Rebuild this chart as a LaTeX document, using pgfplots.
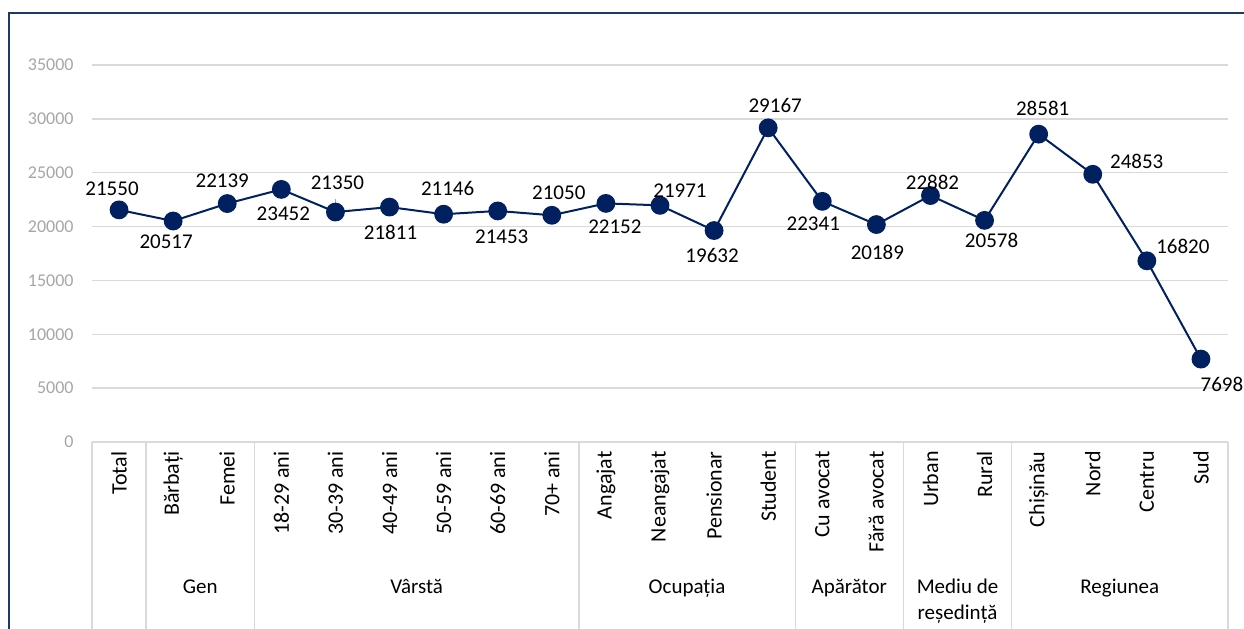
\documentclass[border=0pt]{standalone}
\usepackage{pgfplots}
\pgfplotsset{compat=1.18}
\usepackage{pgfplotstable}
\usepackage{fontspec}
\setmainfont{Carlito}
\definecolor{navy}{HTML}{002060}
\definecolor{framec}{HTML}{203864}
\definecolor{gridc}{HTML}{D9D9D9}
\definecolor{tickc}{HTML}{A6A6A6}

\pgfplotstableread{
x y dx dy lab
0 21550 -3.5 10.5 21550
1 20517 -3.5 -10.5 20517
2 22139 -2.5 11.5 22139
3 23452 1 -12 23452
4 21350 1 14.5 21350
5 21811 0.5 -12.5 21811
6 21146 2 13 21146
7 21453 2 -13 21453
8 21050 3.5 11.5 21050
9 22152 4.5 -11.5 22152
10 21971 10 7.5 21971
11 19632 -1 -12.5 19632
12 29167 3.5 11 29167
13 22341 -4.5 -11 22341
14 20189 0.5 -14 20189
15 22882 1 6.5 22882
16 20578 3.5 -10 20578
17 28581 2 13 28581
18 24853 22 6.5 24853
19 16820 18 7 16820
20 7698 10.5 -12.5 7698
}\data

\begin{document}
\begin{tikzpicture}
\useasboundingbox (-46pt,-93pt) rectangle (576pt,221pt);
\draw[framec, line width=1pt] (-41.5pt,-110pt) -- (-41.5pt,214.5pt) -- (600pt,214.5pt);
\begin{axis}[
  at={(0,0)}, anchor=south west,
  width=568pt, height=188.5pt, scale only axis,
  xmin=-0.5, xmax=20.5, ymin=0, ymax=35000,
  ytick={0,5000,...,35000},
  scaled y ticks=false,
  xtick={0,...,20},
  xticklabels={Total,Bărbați,Femei,18-29 ani,30-39 ani,40-49 ani,50-59 ani,60-69 ani,70+ ani,Angajat,Neangajat,Pensionar,Student,Cu avocat,Fără avocat,Urban,Rural,Chișinău,Nord,Centru,Sud},
  axis line style={draw=none},
  tick style={draw=none},
  ymajorgrids,
  grid style={gridc, line width=0.7pt},
  clip=false,
  /pgf/number format/assume math mode=true,
  /pgf/number format/1000 sep={},
  yticklabel={\pgfmathprintnumber[fixed, precision=0, 1000 sep={}]{\tick}},
  yticklabel style={font=\fontsize{9}{10}\selectfont, text=tickc, anchor=east, inner sep=0pt, xshift=-9pt},
  xticklabel style={font=\fontsize{11}{12}\selectfont, yshift=-4.5pt, rotate=90, anchor=east, inner sep=0pt},
]
\pgfplotsinvokeforeach{-0.5,0.5,2.5,8.5,12.5,14.5,16.5,20.5}{
  \draw[gridc, line width=0.7pt] (axis cs:#1,0) -- ++(0pt,-110pt);
}
\addplot[navy, line width=1pt, mark=*, mark size=4.2pt, mark options={fill=navy, draw=navy},
  point meta=explicit symbolic,
  nodes near coords={\pgfplotspointmeta},
  visualization depends on={\thisrow{dx}\as\mydx},
  visualization depends on={\thisrow{dy}\as\mydy},
  every node near coord/.style={anchor=center, inner sep=0pt, font=\fontsize{10.5}{12}\selectfont, text=black, shift={(\mydx pt,\mydy pt)}},
] table[x=x, y=y, meta=lab] {\data};
\draw[tickc, line width=0.6pt] (axis cs:4,21350) -- ++(0pt,6.5pt);
\begin{scope}[every node/.style={anchor=base, inner sep=0pt, font=\fontsize{10.5}{12}\selectfont}]
\node at ([yshift=-75.5pt]axis cs:1.5,0) {Gen};
\node at ([yshift=-75.5pt]axis cs:5.5,0) {Vârstă};
\node at ([yshift=-75.5pt]axis cs:10.5,0) {Ocupația};
\node at ([yshift=-75.5pt]axis cs:13.5,0) {Apărător};
\node at ([yshift=-75.5pt]axis cs:15.5,0) {Mediu de};
\node at ([yshift=-88.5pt]axis cs:15.5,0) {reședință};
\node at ([yshift=-75.5pt]axis cs:18.5,0) {Regiunea};
\end{scope}
\end{axis}
\end{tikzpicture}
\end{document}
